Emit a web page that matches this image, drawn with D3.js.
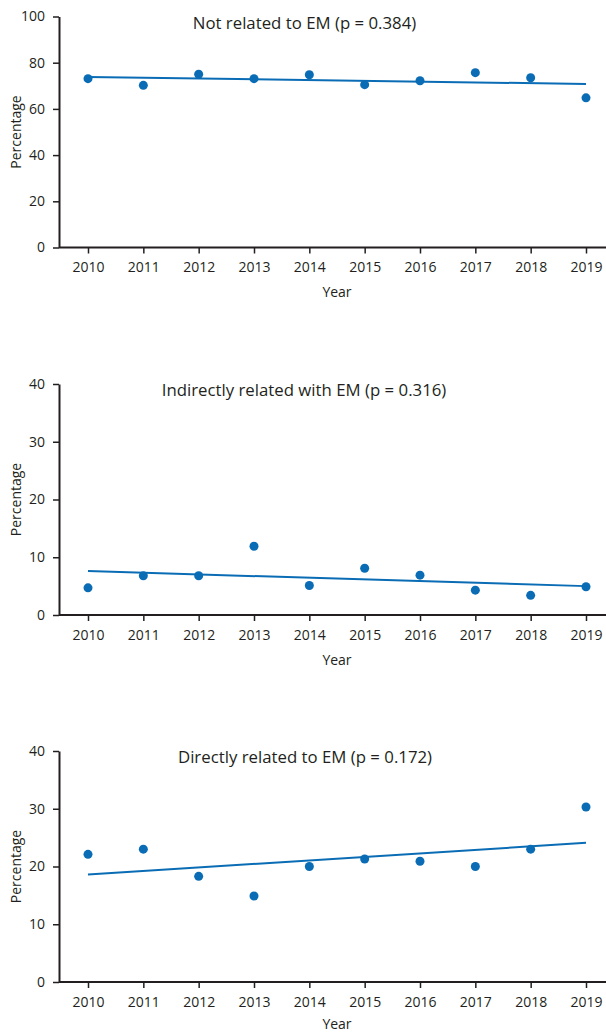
<!DOCTYPE html>
<html><head><meta charset="utf-8">
<script src="https://cdn.jsdelivr.net/npm/d3@7"></script>
<style>
html,body{margin:0;padding:0;background:#fff;}
text{font-family:"Open Sans","Noto Sans",sans-serif;fill:#231f20;}
</style></head>
<body>
<svg id="c" width="606" height="1033"></svg>
<script>
const years = [2010,2011,2012,2013,2014,2015,2016,2017,2018,2019];
const titles = ["Not related to EM (p = 0.384)","Indirectly related with EM (p = 0.316)","Directly related to EM (p = 0.172)"];
const notRelated = [73.1,70.2,75.0,73.1,74.8,70.5,72.2,75.7,73.5,64.8];
const indirectly = [4.7,6.8,6.8,11.9,5.1,8.1,6.9,4.3,3.4,4.9];
const directly = [22.1,23.0,18.3,14.9,20.0,21.3,20.9,20.0,23.0,30.3];
const trendNot = [73.8,70.8];
const trendIndirect = [7.6,5.0];
const trendDirect = [18.6,24.1];
const yMax = [100,40,40];
const yTicks = [[0,20,40,60,80,100],[0,10,20,30,40],[0,10,20,30,40]];
const xLabel = "Year", yLabel = "Percentage";

const series = [notRelated, indirectly, directly];
const trends = [trendNot, trendIndirect, trendDirect];

const svg = d3.select("#c");
const blue = "#0a6cb4";
const x = d3.scalePoint().domain(years).range([88,586]);
const bottoms = [247.5, 615, 982];
const H = 231;
const titleX = [304.5, 304, 305];
const yearY = [49.5, 49.5, 47];

series.forEach((vals,i)=>{
  const y = d3.scaleLinear().domain([0,yMax[i]]).range([bottoms[i], bottoms[i]-H]);
  const g = svg.append("g");
  const xa = g.append("g").attr("transform",`translate(0,${bottoms[i]})`)
    .call(d3.axisBottom(x).tickSizeOuter(0).tickSize(6).tickPadding(9));
  xa.select(".domain").attr("d",`M59,0H606`).attr("stroke","#231f20").attr("stroke-width",2);
  xa.selectAll(".tick line").attr("stroke","#231f20").attr("stroke-width",1.5);
  xa.selectAll(".tick text").attr("font-size",14).attr("font-family",null).style("fill","#231f20");
  const ya = g.append("g").attr("transform","translate(59,0)")
    .call(d3.axisLeft(y).tickValues(yTicks[i]).tickSize(6).tickPadding(8).tickSizeOuter(0));
  ya.select(".domain").attr("stroke","#231f20").attr("stroke-width",2);
  ya.selectAll(".tick line").attr("stroke","#231f20").attr("stroke-width",1.5);
  ya.selectAll(".tick text").attr("font-size",14).attr("font-family",null).style("fill","#231f20");
  g.append("text").attr("x",titleX[i]).attr("y",bottoms[i]-H+12).attr("text-anchor","middle")
    .attr("font-size",16.8).text(titles[i]);
  g.append("text").attr("x",337).attr("y",bottoms[i]+yearY[i]).attr("text-anchor","middle")
    .attr("font-size",14).text(xLabel);
  g.append("text").attr("transform",`translate(21,${bottoms[i]-H/2}) rotate(-90)`).attr("text-anchor","middle")
    .attr("font-size",14).text(yLabel);
  g.append("line").attr("x1",x(years[0])).attr("x2",x(years[years.length-1]))
    .attr("y1",y(trends[i][0])).attr("y2",y(trends[i][1]))
    .attr("stroke",blue).attr("stroke-width",2);
  g.selectAll("circle").data(vals).join("circle")
    .attr("cx",(d,j)=>x(years[j])).attr("cy",d=>y(d)).attr("r",4.5).attr("fill",blue);
});
</script>
</body></html>
